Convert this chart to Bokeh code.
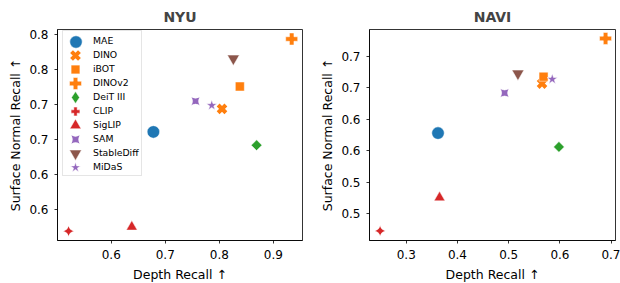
import numpy as np
from bokeh.plotting import figure
from bokeh.layouts import row
from bokeh.models import FixedTicker, Legend, LegendItem, Range1d
from bokeh.embed import file_html
from bokeh.resources import INLINE

# ---- data ----
models = ["MAE", "DINO", "iBOT", "DINOv2", "DeiT III", "CLIP", "SigLIP", "SAM", "StableDiff", "MiDaS"]
nyu_depth = [0.678, 0.805, 0.838, 0.934, 0.869, 0.521, 0.638, 0.756, 0.826, 0.786]
nyu_normal = [0.661, 0.694, 0.726, 0.794, 0.642, 0.519, 0.525, 0.705, 0.766, 0.699]
navi_depth = [0.362, 0.565, 0.568, 0.689, 0.598, 0.249, 0.365, 0.492, 0.518, 0.585]
navi_normal = [0.578, 0.657, 0.668, 0.729, 0.556, 0.422, 0.475, 0.642, 0.673, 0.664]

nyu_xticks = [0.6, 0.7, 0.8, 0.9]
nyu_xtick_labels = ["0.6", "0.7", "0.8", "0.9"]
nyu_yticks = [0.55, 0.60, 0.65, 0.70, 0.75, 0.80]
nyu_ytick_labels = ["0.6", "0.6", "0.7", "0.7", "0.8", "0.8"]
navi_xticks = [0.3, 0.4, 0.5, 0.6, 0.7]
navi_xtick_labels = ["0.3", "0.4", "0.5", "0.6", "0.7"]
navi_yticks = [0.45, 0.50, 0.55, 0.60, 0.65, 0.70]
navi_ytick_labels = ["0.5", "0.5", "0.6", "0.6", "0.7", "0.7"]

# ---- styles ----
colors = ["#1f77b4", "#ff7f0e", "#ff7f0e", "#ff7f0e", "#2ca02c",
          "#d62728", "#d62728", "#9467bd", "#8c564b", "#9467bd"]
markers = ["circle", "x", "square", "plus", "square",
           "square_pin", "triangle", "square_pin", "inverted_triangle", "star"]
sizes = [12.5, 11, 9, 12, 7.6, 7.5, 11, 8.5, 12, 11]
angles = [0, 0, 0, 0, np.pi / 4, np.pi / 4, 0, 0, 0, 0]
# legend swatches (legend glyphs are drawn unrotated)
leg_markers = ["circle", "x", "square", "plus", "diamond",
               "plus", "triangle", "square_pin", "inverted_triangle", "star"]
leg_sizes = [12.5, 11, 9, 12, 12, 9, 11, 9, 12, 10.5]

FONT = "DejaVu Sans"


def glyph_kw(i, marker, size):
    if marker == "x":
        return dict(marker="x", size=size, line_color=colors[i], line_width=4)
    return dict(marker=marker, size=size, fill_color=colors[i],
                line_color="white", line_width=0.5)


def make(title, xs, ys, xr, yr, xt, xtl, yt, ytl, fw, left, right, with_legend):
    p = figure(frame_width=fw, frame_height=211,
               x_range=Range1d(*xr), y_range=Range1d(*yr),
               output_backend="svg", toolbar_location=None,
               min_border_left=left, min_border_right=right,
               min_border_top=29, min_border_bottom=43, title=title)
    p.title.text_font = FONT
    p.title.text_font_size = "14px"
    p.title.text_font_style = "bold"
    p.title.align = "center"
    p.title.standoff = 10
    p.xgrid.visible = False
    p.ygrid.visible = False
    p.outline_line_color = "black"
    p.outline_line_width = 0.8
    p.outline_line_alpha = 1
    for ax in (p.xaxis[0], p.yaxis[0]):
        ax.minor_tick_line_color = None
        ax.major_tick_in = 0
        ax.major_tick_out = 3
        ax.major_tick_line_width = 0.8
        ax.axis_line_width = 0.8
        ax.axis_line_color = "black"
        ax.major_label_text_font = FONT
        ax.major_label_text_font_size = "12px"
        ax.major_label_text_color = "black"
        ax.axis_label_text_font = FONT
        ax.axis_label_text_font_size = "12.5px"
        ax.axis_label_text_font_style = "normal"
        ax.axis_label_text_color = "black"
        ax.major_label_standoff = 6
    p.xaxis.axis_label_standoff = 5
    p.yaxis.axis_label_standoff = 3
    p.xaxis.ticker = FixedTicker(ticks=xt)
    p.xaxis.major_label_overrides = dict(zip(xt, xtl))
    p.yaxis.ticker = FixedTicker(ticks=yt)
    p.yaxis.major_label_overrides = dict(zip(yt, ytl))
    p.xaxis.axis_label = "Depth Recall ↑"
    p.yaxis.axis_label = "Surface Normal Recall ↑"

    for i, m in enumerate(models):
        kw = glyph_kw(i, markers[i], sizes[i])
        if markers[i] != "x":
            kw["angle"] = angles[i]
        p.scatter(x=[xs[i]], y=[ys[i]], **kw)

    if with_legend:
        # legend box with labels (text rows of 14px)
        items = []
        for i, m in enumerate(models):
            ghost = p.scatter(x=[], y=[], marker="circle", size=1,
                              fill_alpha=0, line_alpha=0)
            items.append(LegendItem(label=m, renderers=[ghost]))
        lg = Legend(items=items, location=(5, 64))
        lg.margin = 0
        lg.padding = 2
        lg.glyph_width = 22
        lg.glyph_height = 14
        lg.label_height = 14
        lg.spacing = 0
        lg.label_standoff = 6
        lg.label_text_font = FONT
        lg.label_text_font_size = "9.3px"
        lg.label_text_color = "black"
        lg.border_line_color = "#cccccc"
        lg.border_line_width = 1
        lg.background_fill_color = "white"
        lg.background_fill_alpha = 0.8
        p.add_layout(lg)
        # full-size marker swatches, one per legend row (hidden proxies of the points)
        for k in range(len(models)):
            s = int(round(leg_sizes[k] / 0.4))
            sw = p.scatter(x=[xs[k]], y=[ys[k]], visible=False,
                           **glyph_kw(k, leg_markers[k], leg_sizes[k]))
            tl = Legend(items=[LegendItem(label=" ", renderers=[sw])],
                        location=(18 - s / 2, 199 - 14 * k - s / 2))
            tl.margin = 0
            tl.padding = 0
            tl.glyph_width = s
            tl.glyph_height = s
            tl.label_width = 0
            tl.label_height = 0
            tl.label_standoff = 0
            tl.label_text_font_size = "1px"
            tl.border_line_color = None
            tl.background_fill_alpha = 0
            tl.inactive_fill_alpha = 0
            p.add_layout(tl)
    return p


p1 = make("NYU", nyu_depth, nyu_normal, (0.5005, 0.954), (0.5056, 0.8076),
          nyu_xticks, nyu_xtick_labels, nyu_yticks, nyu_ytick_labels,
          245, 57, 7, True)
p2 = make("NAVI", navi_depth, navi_normal, (0.2283, 0.7084), (0.4067, 0.7433),
          navi_xticks, navi_xtick_labels, navi_yticks, navi_ytick_labels,
          246, 60, 5, False)

layout = row(p1, p2)
open("out.html", "w").write(file_html(layout, INLINE))
